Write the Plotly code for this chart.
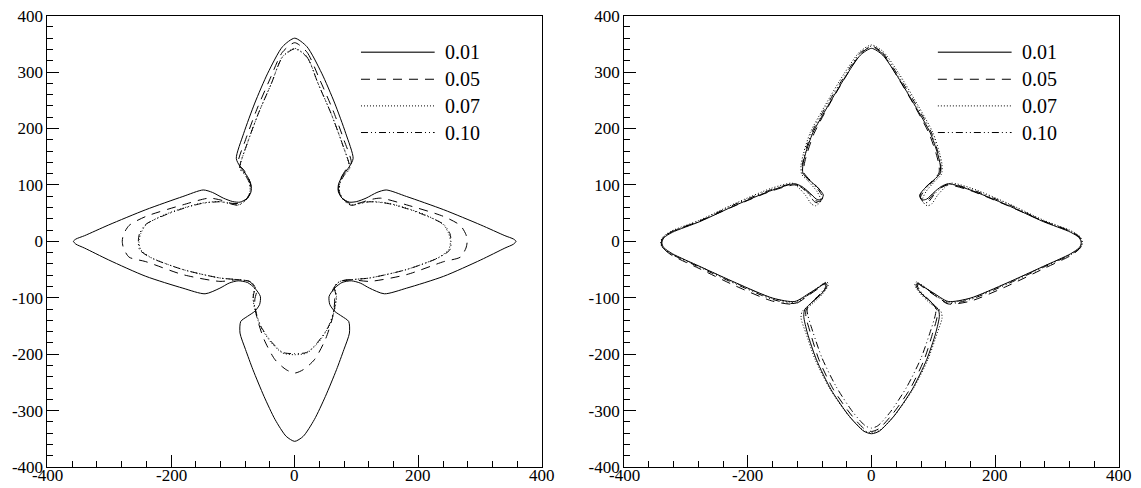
import plotly.graph_objects as go

# Right half of each closed interface contour, traced from the top tip (x=0)
# clockwise to the bottom tip (x=0). The left half is the mirror image.

# ---- left panel ----
left_001_x = [0, 19.7, 43.6, 64.6, 82.5, 94.5, 88.5, 76.5, 70.6, 70.6, 76.5, 88.5, 100.4, 115.4, 133, 148,
              181, 241, 301, 340, 354, 358, 354, 340, 301, 241, 181, 145, 121, 106, 91.5, 76.5, 64.6, 55.6, 56.8,
              64.6, 76.5, 87.3, 88.5, 79.5, 67.6, 49.6, 31.7, 13.8, 0]
left_001_y = [360, 345, 298, 245, 191.5, 147, 132.5, 115, 100, 88, 76.5, 69.4, 70.5, 76.5, 86.6, 91,
              79.4, 56, 29, 10, 4, 0, -5, -12, -33, -62, -83, -93, -83, -74, -70, -73, -83, -97.6, -112,
              -124, -133, -142, -162.6, -192, -227.5, -275, -316, -345.6, -354.5]

left_005_x = [0, 20, 40.7, 61.6, 79.5, 91.5, 82.5, 73.5, 70.6, 76.5, 88.5, 103.4, 121, 139, 181, 241, 268,
              277, 279, 277, 268, 241, 181, 121, 91.5, 73.5, 61.6, 64.6, 61.6, 49.6, 31.7, 13.8, 0]
left_005_y = [352, 335, 286, 233, 180, 138.5, 126.6, 109, 91, 76.5, 67.6, 67.6, 73.5, 76.5, 64.6, 44, 28,
              12, 0, -12, -28, -36, -59, -71, -68, -71, -86, -103.6, -133, -174, -210, -227.5, -233.5]

left_007_x = [0, 20, 37.7, 58.6, 76.5, 88.5, 79.5, 73.5, 72.3, 79.5, 91.5, 106, 121, 151, 181, 211, 240,
              249, 252, 249, 232, 181, 121, 91.5, 73.5, 64.6, 67.6, 64.6, 55.6, 37.7, 19.7, 0]
left_007_y = [342, 327, 280, 227, 174, 129.6, 118, 106, 88, 73.5, 64.6, 67.6, 70.5, 67.6, 58.7, 47, 30,
              14, 0, -15, -29, -50, -65, -68, -71, -80, -97.6, -121, -150.6, -180, -198, -201]

left_010_x = [0, 20, 38, 59, 77, 89, 80, 74, 72, 79, 91, 106, 121, 151, 181, 211, 241,
              251, 253, 251, 233, 181, 121, 91, 73, 64, 67, 64, 55, 37, 19, 0]
left_010_y = [341, 326, 279, 226, 173, 129, 117, 105, 87, 73, 64, 67, 70, 67, 58, 46, 30,
              14, 0, -15, -29, -50, -65, -68, -71, -80, -97, -120, -150, -179, -197, -199]

# ---- right panel ----
right_001_x = [0, 18, 42, 71, 95, 106.6, 111, 111, 101, 86, 78, 82, 89, 100.7, 112.5, 124, 159.6, 218.5,
               277.5, 322, 336, 339, 336, 322, 277.5, 218.5, 159.6, 124, 100.7, 83, 74, 72, 80, 95, 108,
               109.6, 103.7, 89, 65.4, 36, 12.4, 0]
right_001_y = [342, 330, 292, 239, 192, 156, 135.5, 121, 109, 94, 82, 73.5, 74.7, 86.6, 97, 102, 91, 64.6,
               35, 16, 6, -3, -11, -22, -44.6, -74, -100.7, -106.6, -92, -80, -74, -79, -92, -106.6, -121,
               -133, -162.6, -210, -263, -310, -336.6, -341]

right_005_x = [0, 18, 41, 70, 93, 104.5, 109, 109, 99, 85, 78, 83, 90, 101, 112, 124, 159.6, 218.5,
               277.5, 323, 337, 340, 337, 324, 279, 220, 160, 124, 101, 84, 76, 74, 82, 96, 106,
               106, 99, 85, 62, 34, 12, 0]
right_005_y = [345, 332, 293, 239, 191, 155, 135, 121, 108, 93, 80, 71, 72, 85, 95, 100, 90, 64,
               36, 17, 6, -3, -12, -24, -48, -79, -106, -111, -95, -82, -76, -81, -94, -108, -122,
               -134, -162, -210, -262, -306, -332, -337]

right_007_x = [0, 19, 45, 75, 99, 110, 114, 113, 102, 88, 82, 90, 97, 107, 118, 128, 162, 221,
               279, 324, 338, 341, 338, 324, 279, 220, 160, 124, 101, 82, 72, 70, 79, 97, 112,
               114, 106, 91, 67, 37, 13, 0]
right_007_y = [348, 336, 296, 241, 193, 156, 135, 119, 106, 88, 72, 63, 66, 82, 95, 103, 94, 67,
               37, 18, 7, -3, -11, -22, -44, -74, -101, -108, -93, -78, -72, -78, -93, -112, -124,
               -136, -163, -210, -262, -309, -335, -339]

right_010_x = [0, 18, 43, 73, 97, 108, 112, 111, 100, 86, 79, 85, 92, 102, 114, 126, 161, 220,
               278, 323, 337, 340, 337, 323, 278, 219, 160, 124, 101, 84, 75, 74, 82, 95, 104,
               103, 95, 80, 57, 30, 10, 0]
right_010_y = [346, 334, 294, 240, 192, 155, 134, 120, 107, 91, 77, 68, 70, 84, 96, 102, 92, 66,
               36, 17, 7, -3, -12, -23, -46, -76, -103, -110, -94, -80, -74, -79, -92, -106, -120,
               -131, -160, -207, -258, -303, -327, -331]

labels = ["0.01", "0.05", "0.07", "0.10"]
x_ticks = [-400, -200, 0, 200, 400]
y_ticks = [-400, -300, -200, -100, 0, 100, 200, 300, 400]

dashes = ["solid", "9px,7px", "1px,2px", "7px,3px,1px,3px,1px,3px"]

FONT = '"Liberation Serif", "Times New Roman", Times, serif'


def closed(hx, hy):
    """Append the mirrored left half to a right-half contour."""
    xs = list(hx) + [-v for v in reversed(hx)][1:]
    ys = list(hy) + list(reversed(hy))[1:]
    return xs, ys


fig = go.Figure()

panels = [
    ("x", "y", [(left_001_x, left_001_y), (left_005_x, left_005_y),
                (left_007_x, left_007_y), (left_010_x, left_010_y)]),
    ("x2", "y2", [(right_001_x, right_001_y), (right_005_x, right_005_y),
                  (right_007_x, right_007_y), (right_010_x, right_010_y)]),
]

for xa, ya, series in panels:
    for (hx, hy), dash, name in zip(series, dashes, labels):
        xs, ys = closed(hx, hy)
        fig.add_trace(go.Scatter(
            x=xs, y=ys, mode="lines", name=name, showlegend=False,
            line=dict(color="black", width=1, dash=dash, shape="spline", smoothing=0.7),
            xaxis=xa, yaxis=ya, hoverinfo="skip"))

# legend keys drawn inside each panel
legend_rows = [0.919, 0.859, 0.800, 0.741]
shapes, annotations = [], []
for xa, ya in [("x", "y"), ("x2", "y2")]:
    for yrow, dash, name in zip(legend_rows, dashes, labels):
        shapes.append(dict(type="line", xref=f"{xa} domain", yref=f"{ya} domain",
                           x0=0.634, x1=0.783, y0=yrow, y1=yrow,
                           line=dict(color="#444" if dash == "solid" else "black",
                                     width=1.5 if dash == "solid" else 1, dash=dash)))
        annotations.append(dict(xref=f"{xa} domain", yref=f"{ya} domain", x=0.800, y=yrow,
                                text=name, showarrow=False, xanchor="left", yanchor="middle",
                                font=dict(family=FONT, size=20, color="black")))
    # x tick labels set just under the bottom axis line
    for v in x_ticks:
        annotations.append(dict(xref=xa, yref="paper", x=v, y=0.0,
                                text=str(v), showarrow=False, xanchor="center", yanchor="bottom",
                                yshift=1, font=dict(family=FONT, size=17, color="black")))

axis_common = dict(
    range=[-400, 400], showgrid=False, zeroline=False, automargin=False,
    showline=True, mirror=True, linecolor="black", linewidth=1,
    ticks="inside", ticklen=12, tickwidth=1, tickcolor="black",
    tickfont=dict(family=FONT, size=17, color="black"),
)

x_minor = dict(ticks="inside", ticklen=6, dtick=40, tickcolor="black")
y_minor = dict(ticks="inside", ticklen=6, dtick=20, tickcolor="black")
y_text = [str(v) for v in y_ticks]

fig.update_layout(
    width=1141, height=488,
    margin=dict(l=0, r=0, t=0, b=0),
    paper_bgcolor="white", plot_bgcolor="white",
    font=dict(family=FONT, color="black"),
    shapes=shapes, annotations=annotations,
    xaxis=dict(domain=[0.0416, 0.475], anchor="y", tickvals=x_ticks, showticklabels=False,
               minor=x_minor, **axis_common),
    yaxis=dict(domain=[0.043, 0.968], anchor="x", tickvals=y_ticks, ticktext=y_text,
               minor=y_minor, **axis_common),
    xaxis2=dict(domain=[0.547, 0.9807], anchor="y2", tickvals=x_ticks, showticklabels=False,
                minor=x_minor, **axis_common),
    yaxis2=dict(domain=[0.043, 0.968], anchor="x2", tickvals=y_ticks, ticktext=y_text,
                minor=y_minor, **axis_common),
)

fig.write_html("out.html")
